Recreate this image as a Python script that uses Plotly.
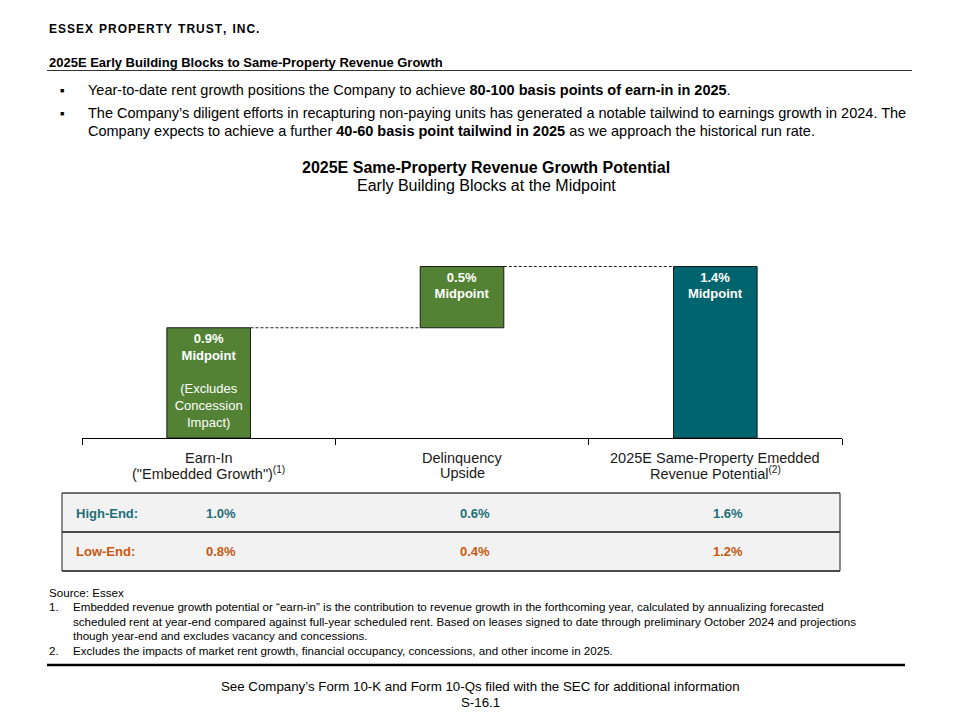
import plotly.graph_objects as go

# ---------------- data ----------------
categories = ["Earn-In", "Delinquency", "Total"]
tick_labels = [
    'Earn-In<br>("Embedded Growth")<sup>(1)</sup>',
    "Delinquency<br>Upside",
    "2025E Same-Property Emedded<br>Revenue Potential<sup>(2)</sup>",
]
midpoint = [0.9, 0.5, 1.4]
bar_base = [0.0, 0.9, 0.0]
high_end = [1.0, 0.6, 1.6]
low_end = [0.8, 0.4, 1.2]
bar_notes = ["<br><br>(Excludes<br>Concession<br>Impact)", "", ""]

GREEN = "#548235"
TEAL = "#00646E"
bar_colors = [GREEN, GREEN, TEAL]
HIGH_C = "#1F6F78"
LOW_C = "#C55A11"
FONT = "Liberation Sans, Arial, sans-serif"

W, H = 960, 720


def px(x):
    return x / W


def py(y):
    return 1 - y / H


BAR_W = 0.33

fig = go.Figure()
fig.add_trace(
    go.Bar(
        x=categories,
        y=midpoint,
        base=bar_base,
        width=BAR_W,
        marker=dict(color=bar_colors, line=dict(color="#1a1a1a", width=1)),
        text=[f"<b>{v:.1f}%<br>Midpoint</b>{n}" for v, n in zip(midpoint, bar_notes)],
        textposition="inside",
        insidetextanchor="end",
        textangle=0,
        textfont=dict(family=FONT, size=13, color="white"),
        hoverinfo="skip",
        cliponaxis=False,
    )
)

shapes = []
# dashed connectors between consecutive bars
for i in range(len(categories) - 1):
    level = bar_base[i] + midpoint[i]
    shapes.append(
        dict(type="line", xref="x", yref="y",
             x0=i + BAR_W / 2, x1=i + 1 - BAR_W / 2, y0=level, y1=level,
             line=dict(color="#222222", width=1, dash="3px,2px"))
    )

# header rule
shapes.append(dict(type="line", xref="paper", yref="paper", x0=px(47), x1=px(912),
                   y0=py(70.5), y1=py(70.5), line=dict(color="#333333", width=1.2)))
# table
T_L, T_R, T_T, T_M, T_B = 62, 840, 493, 532, 571
shapes.append(dict(type="rect", xref="paper", yref="paper", x0=px(T_L), x1=px(T_R),
                   y0=py(T_B), y1=py(T_T), fillcolor="#F2F2F2",
                   line=dict(width=0), layer="below"))
shapes.append(dict(type="line", xref="paper", yref="paper", x0=px(T_L), x1=px(T_R),
                   y0=py(T_T), y1=py(T_T), line=dict(color="#404040", width=1.5)))
for yy in (T_M, T_B):
    shapes.append(dict(type="line", xref="paper", yref="paper", x0=px(T_L), x1=px(T_R),
                       y0=py(yy), y1=py(yy), line=dict(color="#111111", width=1.5)))
for xx in (T_L, T_R):
    shapes.append(dict(type="line", xref="paper", yref="paper", x0=px(xx), x1=px(xx),
                       y0=py(T_B), y1=py(T_T), line=dict(color="#404040", width=1.2)))
# footer rule
shapes.append(dict(type="line", xref="paper", yref="paper", x0=px(47), x1=px(905),
                   y0=py(665), y1=py(665), line=dict(color="#000000", width=2.5)))

ann = []


def text(x, y, s, size=12, color="#000000", xanchor="left", bold=False, family=FONT):
    if bold:
        s = f"<b>{s}</b>"
    ann.append(dict(xref="paper", yref="paper", x=px(x), y=py(y), text=s,
                    showarrow=False, xanchor=xanchor, yanchor="middle",
                    font=dict(family=family, size=size, color=color)))


# header
text(47, 29, "E S S E X  P R O P E R T Y  T R U S T ,  I N C .".replace("  ", "\u2002").replace(" ", "\u200a"), size=12, bold=True)
text(47, 62, "2025E Early Building Blocks to Same-Property Revenue Growth", size=13, bold=True)

# bullets
BS = 14.5
text(58, 90, "■", size=7)
text(58, 113, "■", size=7)
text(86, 90, "Year-to-date rent growth positions the Company to achieve <b>80-100 basis points of earn-in in 2025</b>.", size=BS)
text(86, 113, "The Company’s diligent efforts in recapturing non-paying units has generated a notable tailwind to earnings growth in 2024. The", size=BS)
text(86, 131, "Company expects to achieve a further <b>40-60 basis point tailwind in 2025</b> as we approach the historical run rate.", size=BS)

# chart titles
text(486, 167, "2025E Same-Property Revenue Growth Potential", size=16, bold=True, xanchor="center")
text(486, 186, "Early Building Blocks at the Midpoint", size=16, xanchor="center")

# category labels (one annotation per line, positioned on the category axis)
for i, lab in enumerate(tick_labels):
    for j, line in enumerate(lab.split("<br>")):
        ann.append(dict(xref="x", yref="paper", x=i, y=py(458 + 15 * j),
                        text=line, showarrow=False, xanchor="center", yanchor="middle",
                        font=dict(family=FONT, size=14.5, color="#1a1a1a")))

# table rows
TS = 13
text(74, 513, "High-End:", size=TS, color=HIGH_C, bold=True)
text(74, 551, "Low-End:", size=TS, color=LOW_C, bold=True)
for i, (h, l) in enumerate(zip(high_end, low_end)):
    for v, yy, c in ((h, 513, HIGH_C), (l, 551, LOW_C)):
        ann.append(dict(xref="x", yref="paper", x=i + 0.05, y=py(yy),
                        text=f"<b>{v:.1f}%</b>", showarrow=False,
                        xanchor="center", yanchor="middle",
                        font=dict(family=FONT, size=TS, color=c)))

# footnotes
FN = 11.6
text(47, 592, "Source: Essex", size=FN)
text(47, 606, "1.", size=FN)
text(71, 606, "Embedded revenue growth potential or “earn-in” is the contribution to revenue growth in the forthcoming year, calculated by annualizing forecasted", size=FN)
text(71, 621, "scheduled rent at year-end compared against full-year scheduled rent. Based on leases signed to date through preliminary October 2024 and projections", size=FN)
text(71, 635, "though year-end and excludes vacancy and concessions.", size=FN)
text(47, 650, "2.", size=FN)
text(71, 650, "Excludes the impacts of market rent growth, financial occupancy, concessions, and other income in 2025.", size=FN)

# footer
text(480, 686, "See Company’s Form 10-K and Form 10-Qs filed with the SEC for additional information", size=13.3, xanchor="center")
text(480, 702, "S-16.1", size=13.3, xanchor="center")

fig.update_layout(
    width=W, height=H,
    margin=dict(l=0, r=0, t=0, b=0),
    paper_bgcolor="white", plot_bgcolor="white",
    showlegend=False,
    font=dict(family=FONT, color="#000000"),
    shapes=shapes,
    annotations=ann,
    uniformtext=dict(minsize=8, mode="show"),
    xaxis=dict(
        domain=[px(82), px(842)],
        type="category",
        range=[-0.5, 2.5],
        tickvals=categories,
        showticklabels=False,
        tickson="boundaries",
        ticks="outside", ticklen=6, tickcolor="#000000", tickwidth=1,
        showline=True, linecolor="#000000", linewidth=1,
        showgrid=False, zeroline=False,
        fixedrange=True,
    ),
    yaxis=dict(
        domain=[py(438), py(242)],
        range=[0, 1.6],
        visible=False,
        fixedrange=True,
    ),
)

fig.write_html(
    "out.html",
    config={"displayModeBar": False},
    post_script="document.body.style.margin='0';document.body.style.overflow='hidden';",
)
